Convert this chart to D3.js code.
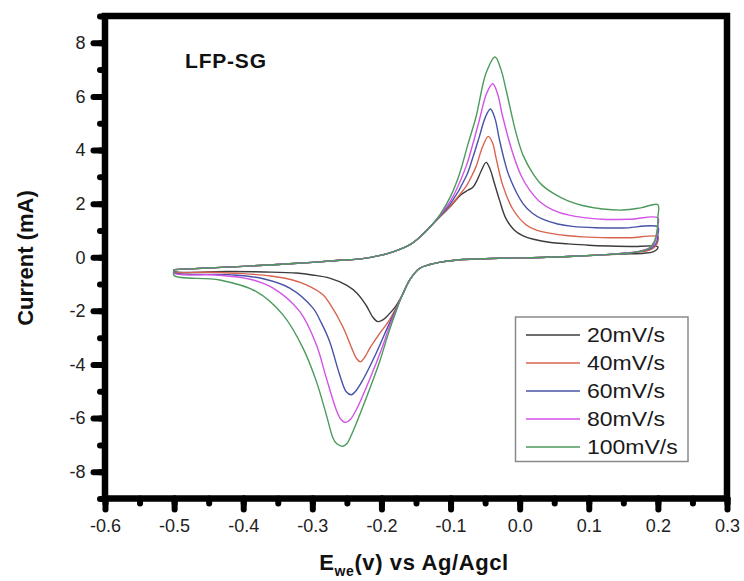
<!DOCTYPE html>
<html>
<head>
<meta charset="utf-8">
<script src="https://cdn.jsdelivr.net/npm/d3@7"></script>
<style>
  html, body { margin: 0; padding: 0; background: #fff; }
  svg { display: block; font-family: "Liberation Sans", Arial, sans-serif; }
</style>
</head>
<body>
<svg id="chart" width="744" height="581"></svg>
<script>
// ---- data (E in V, I in mA) ----
const scanRates = ["20mV/s", "40mV/s", "60mV/s", "80mV/s", "100mV/s"];
const lineColors = ["#3c3c3c", "#d8644e", "#4853a8", "#d253e6", "#4c9a5c"];

const xTickValues = [-0.6, -0.5, -0.4, -0.3, -0.2, -0.1, 0.0, 0.1, 0.2, 0.3];
const xTickLabels = ["-0.6", "-0.5", "-0.4", "-0.3", "-0.2", "-0.1", "0.0", "0.1", "0.2", "0.3"];
const yTickValues = [-8, -6, -4, -2, 0, 2, 4, 6, 8];
const yTickLabels = ["-8", "-6", "-4", "-2", "0", "2", "4", "6", "8"];

// forward sweep, part that all scan rates share
const anodicShared = [[-0.5,-0.46],[-0.45,-0.40],[-0.4,-0.34],[-0.35,-0.27],[-0.3,-0.19],[-0.26,-0.11],
  [-0.23,-0.06],[-0.2,0.08],[-0.18,0.23],[-0.16,0.45],[-0.145,0.74],[-0.13,1.12]];
// reverse sweep, part that all scan rates share
const cathodicShared = [[0.12,0.09],[0.08,0.04],[0.03,-0.01],[-0.03,-0.04],[-0.09,-0.1],
  [-0.115,-0.18],[-0.13,-0.27],[-0.145,-0.42],[-0.159,-0.84],[-0.17,-1.42]];

// 20 mV/s
const anodic20 = [[-0.115,1.52],[-0.1,1.9],[-0.085,2.33],[-0.075,2.5],[-0.068,2.6],[-0.062,2.85],[-0.056,3.2],
  [-0.0486,3.54],[-0.043,3.3],[-0.037,2.8],[-0.0294,2.15],[-0.02,1.45],[-0.008,1.02],[0.005,0.8],[0.02,0.67],
  [0.045,0.55],[0.07,0.5],[0.1,0.45],[0.13,0.42],[0.16,0.40],[0.2,0.39]];
const vertex20 = [[0.199,0.3],[0.193,0.2],[0.18,0.15],[0.15,0.12]];
const cathodic20 = [[-0.18,-1.85],[-0.19,-2.15],[-0.198,-2.34],[-0.2052,-2.40],
  [-0.212,-2.25],[-0.222,-1.8],[-0.235,-1.35],[-0.25,-1.05],[-0.275,-0.78],[-0.3,-0.66],[-0.323,-0.59],
  [-0.37,-0.55],[-0.42,-0.53],[-0.5,-0.52]];

// 40 mV/s
const anodic40 = [[-0.115,1.53],[-0.1,1.92],[-0.088,2.3],[-0.0775,2.64],[-0.07,3.0],[-0.063,3.39],[-0.0535,4.13],
  [-0.0453,4.51],[-0.039,4.25],[-0.0341,3.7],[-0.0246,2.7],[-0.0101,1.8],[0.0092,1.21],[0.025,1.0],[0.043,0.9],
  [0.07,0.8],[0.091,0.76],[0.13,0.73],[0.16,0.73],[0.2,0.77]];
const vertex40 = [[0.2,0.6],[0.197,0.42],[0.188,0.27],[0.17,0.19],[0.15,0.14]];
const cathodic40 = [[-0.18,-1.95],[-0.19,-2.4],[-0.2027,-2.85],[-0.217,-3.4],
  [-0.224,-3.72],[-0.2306,-3.9],[-0.236,-3.78],[-0.2413,-3.5],[-0.2557,-2.6],[-0.275,-1.72],[-0.2846,-1.4],
  [-0.3086,-1.03],[-0.33,-0.84],[-0.36,-0.7],[-0.4,-0.61],[-0.45,-0.56],[-0.5,-0.54]];

// 60 mV/s
const anodic60 = [[-0.115,1.55],[-0.1,2.0],[-0.0775,3.01],[-0.068,3.7],[-0.0582,4.51],[-0.05,5.2],[-0.0424,5.53],
  [-0.036,5.2],[-0.0294,4.4],[-0.022,3.6],[-0.015,3.01],[0.0043,2.02],[0.018,1.65],[0.0332,1.42],[0.055,1.24],
  [0.0765,1.15],[0.11,1.1],[0.149,1.09],[0.2,1.13]];
const vertex60 = [[0.2,0.85],[0.198,0.55],[0.19,0.33],[0.172,0.21],[0.15,0.15]];
const cathodic60 = [[-0.18,-2.0],[-0.19,-2.55],[-0.2075,-3.57],[-0.2268,-4.57],
  [-0.236,-4.95],[-0.2436,-5.13],[-0.2509,-5.02],[-0.2605,-4.38],[-0.275,-3.14],[-0.287,-2.45],[-0.299,-1.9],
  [-0.3327,-1.15],[-0.371,-0.80],[-0.42,-0.65],[-0.5,-0.57]];

// 80 mV/s
const anodic80 = [[-0.115,1.58],[-0.1,2.1],[-0.0775,3.39],[-0.068,4.2],[-0.0582,5.13],[-0.048,6.1],[-0.039,6.47],
  [-0.032,6.1],[-0.0246,5.25],[-0.0101,3.89],[0.002,3.05],[0.014,2.52],[0.03,2.05],[0.0477,1.77],[0.07,1.58],
  [0.0958,1.47],[0.125,1.41],[0.16,1.42],[0.2,1.47]];
const vertex80 = [[0.2,1.15],[0.198,0.75],[0.192,0.42],[0.176,0.24],[0.15,0.15]];
const cathodic80 = [[-0.18,-2.05],[-0.19,-2.7],[-0.198,-3.3],[-0.217,-4.55],
  [-0.2364,-5.69],[-0.245,-6.05],[-0.2518,-6.16],[-0.2557,-6.12],[-0.26,-6.0],[-0.2653,-5.7],[-0.2797,-4.51],
  [-0.2942,-3.26],[-0.3183,-2.02],[-0.3568,-1.15],[-0.39,-0.82],[-0.44,-0.66],[-0.5,-0.6]];

// 100 mV/s
const anodic100 = [[-0.115,1.6],[-0.1,2.27],[-0.0872,3.1],[-0.075,4.2],[-0.063,5.25],[-0.0486,6.87],[-0.0356,7.47],
  [-0.027,7.0],[-0.0197,6.25],[-0.0052,4.63],[0.005,3.8],[0.0188,3.14],[0.032,2.7],[0.0477,2.4],[0.07,2.1],
  [0.091,1.93],[0.12,1.8],[0.149,1.76],[0.175,1.84],[0.2,1.96]];
const vertex100 = [[0.2,1.5],[0.199,1.03],[0.195,0.6],[0.187,0.32],[0.17,0.2],[0.15,0.14]];
const cathodic100 = [[-0.18,-2.1],[-0.19,-2.85],[-0.2027,-3.9],[-0.222,-5.25],
  [-0.2413,-6.5],[-0.25,-6.95],[-0.2557,-7.05],[-0.2605,-7.02],[-0.265,-6.95],[-0.27,-6.75],[-0.2797,-5.88],
  [-0.2942,-4.63],[-0.3135,-3.39],[-0.3424,-2.15],[-0.3809,-1.28],[-0.434,-0.85],[-0.5,-0.68]];

const anodicParts = [anodic20, anodic40, anodic60, anodic80, anodic100];
const vertexParts = [vertex20, vertex40, vertex60, vertex80, vertex100];
const cathodicParts = [cathodic20, cathodic40, cathodic60, cathodic80, cathodic100];

// ---- layout ----
const plot = { left: 105, right: 727, top: 16, bottom: 498.5 };
const svg = d3.select("#chart");

const x = d3.scaleLinear().domain([-0.6, 0.3]).range([plot.left, plot.right]);
const y = d3.scaleLinear().domain([-9, 9]).range([plot.bottom, plot.top]);

// build every closed CV loop
const loops = scanRates.map((name, i) => ({
  name,
  color: lineColors[i],
  points: anodicShared.concat(anodicParts[i], vertexParts[i], cathodicShared, cathodicParts[i], [anodicShared[0]])
}));

const line = d3.line()
  .x(d => x(d[0]))
  .y(d => y(d[1]))
  .curve(d3.curveCatmullRom.alpha(0.5));

svg.append("g")
  .selectAll("path")
  .data(loops)
  .join("path")
  .attr("d", d => line(d.points))
  .attr("fill", "none")
  .attr("stroke", d => d.color)
  .attr("stroke-width", 1.4)
  .attr("stroke-linejoin", "round");

// ---- axes ----
function styleTicks(g) {
  g.select(".domain").remove();
  g.selectAll(".tick line")
    .style("stroke", "#000")
    .style("stroke-width", "6px")
    .style("stroke-linecap", "round");
  g.selectAll(".tick text")
    .style("fill", "#222")
    .style("font-size", "18px")
    .style("font-family", "'Liberation Sans', Arial, sans-serif");
}

const xMinor = d3.range(-0.6, 0.301, 0.05);
const yMinor = d3.range(-9, 9.01, 1);

svg.append("g")
  .attr("transform", `translate(0,${plot.bottom})`)
  .call(d3.axisBottom(x).tickValues(xMinor).tickSize(5).tickSizeOuter(0).tickFormat(""))
  .call(styleTicks);

svg.append("g")
  .attr("transform", `translate(0,${plot.bottom})`)
  .call(d3.axisBottom(x).tickValues(xTickValues).tickSize(11).tickSizeOuter(0).tickPadding(10)
    .tickFormat((d, i) => xTickLabels[i]))
  .call(styleTicks);

svg.append("g")
  .attr("transform", `translate(${plot.left},0)`)
  .call(d3.axisLeft(y).tickValues(yMinor).tickSize(5).tickSizeOuter(0).tickFormat(""))
  .call(styleTicks);

svg.append("g")
  .attr("transform", `translate(${plot.left},0)`)
  .call(d3.axisLeft(y).tickValues(yTickValues).tickSize(11.5).tickSizeOuter(0).tickPadding(8)
    .tickFormat((d, i) => yTickLabels[i]))
  .call(styleTicks);

// frame
svg.append("rect")
  .attr("x", plot.left)
  .attr("y", plot.top)
  .attr("width", plot.right - plot.left)
  .attr("height", plot.bottom - plot.top)
  .style("fill", "none")
  .style("stroke", "#000")
  .style("stroke-width", "6.5px");

// ---- titles ----
svg.append("text")
  .attr("x", 185)
  .attr("y", 68)
  .attr("font-weight", "bold")
  .attr("font-size", 21)
  .attr("letter-spacing", 0.8)
  .attr("fill", "#111")
  .text("LFP-SG");

svg.append("text")
  .attr("transform", "translate(33,258) rotate(-90)")
  .attr("text-anchor", "middle")
  .attr("font-weight", "bold")
  .attr("font-size", 22)
  .attr("fill", "#111")
  .text("Current (mA)");

const xTitle = svg.append("text")
  .attr("x", 414)
  .attr("y", 570)
  .attr("text-anchor", "middle")
  .attr("font-weight", "bold")
  .attr("font-size", 22)
  .attr("letter-spacing", 0.6)
  .attr("fill", "#111");
xTitle.append("tspan").text("E");
xTitle.append("tspan").attr("font-size", 14).attr("dy", 6).text("we");
xTitle.append("tspan").attr("dy", -6).text("(v) vs Ag/Agcl");

// ---- legend ----
const legend = svg.append("g");
legend.append("rect")
  .attr("x", 515.5)
  .attr("y", 317)
  .attr("width", 172.5)
  .attr("height", 144.5)
  .attr("fill", "#fff")
  .attr("stroke", "#8a8a8a")
  .attr("stroke-width", 1.5);

const rowY = d3.scalePoint().domain(scanRates).range([335, 447]);

const rows = legend.selectAll("g.row")
  .data(loops)
  .join("g")
  .attr("class", "row")
  .attr("transform", d => `translate(0,${rowY(d.name)})`);

rows.append("line")
  .attr("x1", 526)
  .attr("x2", 580)
  .attr("stroke", d => d.color)
  .attr("stroke-width", 1.3);

rows.append("text")
  .attr("transform", "translate(587,0) scale(1.15,1)")
  .attr("dy", "0.36em")
  .attr("font-size", 20)
  .attr("fill", "#1a1a1a")
  .text(d => d.name);
</script>
</body>
</html>
